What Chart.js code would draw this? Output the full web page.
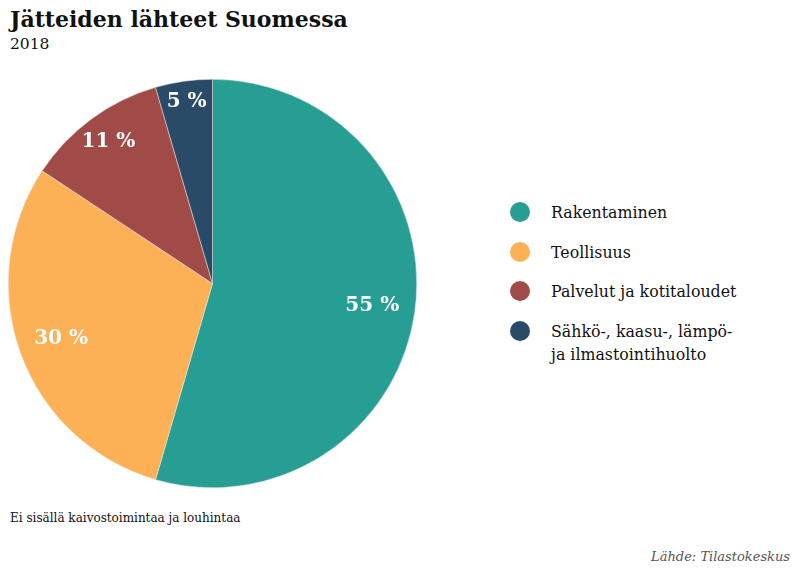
<!DOCTYPE html>
<html>
<head>
<meta charset="utf-8">
<script src="https://cdn.jsdelivr.net/npm/chart.js@4/dist/chart.umd.min.js"></script>
<style>
  body { margin: 0; background: #fff; font-family: "DejaVu Serif", serif; color: #111; }
  #wrap { position: relative; width: 800px; height: 581px; overflow: hidden; }
  #title { position: absolute; left: 10px; top: 6px; font-size: 22px; font-weight: bold; }
  #sub { position: absolute; left: 10px; top: 35px; font-size: 15.5px; }
  #pie { position: absolute; left: 0; top: 71px; width: 425px; height: 425px; }
  #legend { position: absolute; left: 510px; top: 201px; font-size: 15.8px; }
  .item { position: relative; padding-left: 41px; line-height: 23px; margin-bottom: 16.5px; }
  .dot { position: absolute; left: 0; top: 1px; width: 20px; height: 20px; border-radius: 50%; }
  #note { position: absolute; left: 10px; top: 511px; font-size: 12px; }
  #source { position: absolute; right: 10px; top: 549px; font-size: 13px; font-style: italic; color: #555; }
</style>
</head>
<body>
<div id="wrap">
  <div id="title">Jätteiden lähteet Suomessa</div>
  <div id="sub">2018</div>
  <canvas id="pie" width="425" height="425"></canvas>
  <div id="legend"></div>
  <div id="note">Ei sisällä kaivostoimintaa ja louhintaa</div>
  <div id="source">Lähde: Tilastokeskus</div>
</div>
<script>
var categories = ['Rakentaminen', 'Teollisuus', 'Palvelut ja kotitaloudet', 'Sähkö-, kaasu-, lämpö-\nja ilmastointihuolto'];
var shares = [54.5, 29.8, 11.2, 4.5];
var shareLabels = ['55 %', '30 %', '11 %', '5 %'];
var colors = ['#279e94', '#fdb157', '#a04b48', '#294b68'];
var labelRadius = [0.79, 0.79, 0.86, 0.9];

// legend
var legend = document.getElementById('legend');
for (var i = 0; i < categories.length; i++) {
  var item = document.createElement('div');
  item.className = 'item';
  item.innerHTML = '<span class="dot" style="background:' + colors[i] + '"></span>' +
    categories[i].replace('\n', '<br>');
  legend.appendChild(item);
}

var sliceLabels = {
  id: 'sliceLabels',
  afterDatasetsDraw: function(chart) {
    var ctx = chart.ctx;
    var meta = chart.getDatasetMeta(0);
    ctx.save();
    ctx.fillStyle = '#fff';
    ctx.font = 'bold 20px "DejaVu Serif", serif';
    ctx.textAlign = 'center';
    ctx.textBaseline = 'middle';
    meta.data.forEach(function(arc, i) {
      var p = arc.getProps(['x', 'y', 'startAngle', 'endAngle', 'outerRadius'], true);
      var mid = (p.startAngle + p.endAngle) / 2;
      var r = p.outerRadius * labelRadius[i];
      ctx.fillText(shareLabels[i], p.x + Math.cos(mid) * r, p.y + Math.sin(mid) * r);
    });
    ctx.restore();
  }
};

new Chart(document.getElementById('pie'), {
  type: 'pie',
  data: {
    labels: categories,
    datasets: [{
      data: shares,
      backgroundColor: colors,
      borderColor: '#e8e8e8',
      borderWidth: 0.5
    }]
  },
  options: {
    responsive: false,
    animation: false,
    layout: { padding: 8 },
    plugins: {
      legend: { display: false },
      tooltip: { enabled: false }
    }
  },
  plugins: [sliceLabels]
});
</script>
</body>
</html>
